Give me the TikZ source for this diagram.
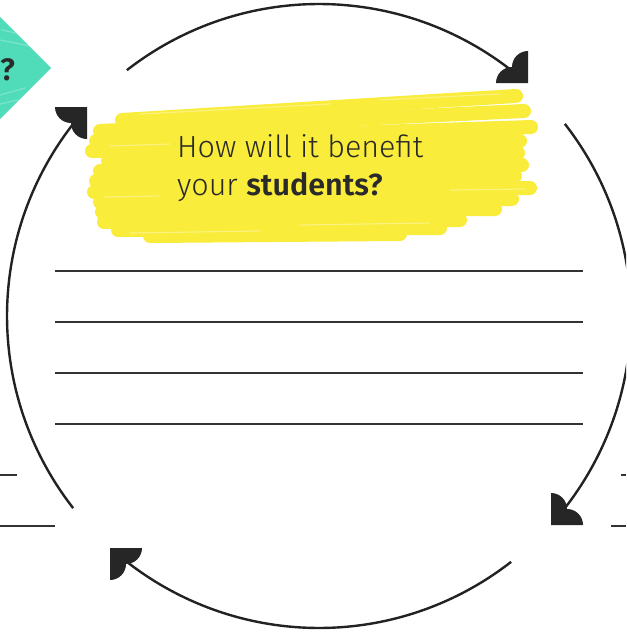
\documentclass[tikz,border=0pt]{standalone}
\usepackage{fontspec}
\setmainfont{Fira Sans}
\newfontfamily\lightf{Fira Sans Light}[BoldFont={Fira Sans SemiBold}]
\definecolor{inkc}{HTML}{222222}
\definecolor{headc}{HTML}{262626}
\definecolor{linec}{HTML}{333333}
\definecolor{textc}{HTML}{2A2A2A}
\definecolor{brushc}{RGB}{249,236,58}
\definecolor{greenc}{RGB}{80,220,185}
\begin{document}
\begin{tikzpicture}[x=1pt,y=-1pt,
  arcline/.style={line width=2.4pt, draw=inkc},
  writeline/.style={line width=1.3pt, draw=linec},
  brush/.style={draw=brushc, line width=14pt, line cap=round},
  streak/.style={draw=white, opacity=0.35, line width=1.2pt, line cap=round},
  qtext/.style={font=\lightf\fontsize{30.5}{36}\selectfont, text=textc, inner sep=0pt},
  ahead/.pic={\fill[headc] (0,0) -- (-32,0) .. controls (-32,-8.84) and (-24.84,-16) .. (-16,-16)
      .. controls (-16,-24.84) and (-8.84,-32) .. (0,-32) -- cycle;}
]
\useasboundingbox (0,0) rectangle (626,634);
\clip (0,0) rectangle (626,634);
\fill[white] (0,0) rectangle (626,634);

% green diamond (partial)
\fill[greenc] (51,68) -- (-50,-33) -- (-151,68) -- (-50,169) -- cycle;
\begin{scope}
\clip (51,68) -- (-50,-33) -- (-151,68) -- (-50,169) -- cycle;
\draw[streak, opacity=0.25] (0,40) -- (30,46);
\draw[streak, opacity=0.25] (0,95) -- (25,88);
\draw[streak, opacity=0.25] (0,104) -- (18,100);
\draw[streak, opacity=0.25] (2,30) -- (20,34);
\end{scope}
\node[qtext, font=\lightf\bfseries\fontsize{31}{36}\selectfont, anchor=base east] (qm) at (15,80) {?};

% yellow brush
\draw[brush] (122,120) -- (516,96);
\draw[brush] (100,131) -- (524,111);
\draw[brush] (96,141) -- (531,127);
\draw[brush] (92,151) -- (520,141);
\draw[brush] (108,161) -- (518,153);
\draw[brush] (100,171) -- (522,165);
\draw[brush] (96,181) -- (515,176);
\draw[brush] (94,192) -- (530,188);
\draw[brush] (100,202) -- (512,199);
\draw[brush] (102,212) -- (495,209);
\draw[brush] (104,222) -- (460,220);
\draw[brush] (118,230) -- (440,228);
\draw[brush] (150,236) -- (400,234);
% pale streaks in the brush
\draw[streak] (140,114) -- (330,104);
\draw[streak] (380,100) -- (500,94);
\draw[streak] (110,146) -- (170,144);
\draw[streak] (450,190) -- (525,189);
\draw[streak] (130,233) -- (260,231);
\draw[streak] (300,225) -- (430,223);
\draw[streak] (105,197) -- (160,196);

% question text
\node[qtext, anchor=base west] (q1) at (177,157.5) {How will it benefit};
\node[qtext, anchor=base west] (q2) at (177,195) {your \textbf{students?}};

% writing lines
\foreach \yy in {271,322,373,424} \draw[writeline] (55,\yy) -- (583,\yy);
% neighbouring panel lines
\draw[writeline] (0,475) -- (17,475);
\draw[writeline] (0,526) -- (55,526);
\draw[writeline] (621,475) -- (626,475);
\draw[writeline] (611,526) -- (626,526);

% cycle arcs
\coordinate (c) at (319,316);
\draw[arcline] plot[domain=232:308, samples=80] ({319+312*cos(\x)}, {316+312*sin(\x)});
\draw[arcline] plot[domain=-38:38, samples=80] ({319+312*cos(\x)}, {316+312*sin(\x)});
\draw[arcline] plot[domain=52:128, samples=80] ({319+312*cos(\x)}, {316+312*sin(\x)});
\draw[arcline] plot[domain=142:218, samples=80] ({319+312*cos(\x)}, {316+312*sin(\x)});

% arrowheads
\pic (ahTR) at (528,83) {ahead};
\pic[yscale=-1] (ahTL) at (87,107) {ahead};
\pic[xscale=-1] (ahBR) at (551,525) {ahead};
\pic[xscale=-1,yscale=-1] (ahBL) at (110,548) {ahead};
\end{tikzpicture}
\end{document}
